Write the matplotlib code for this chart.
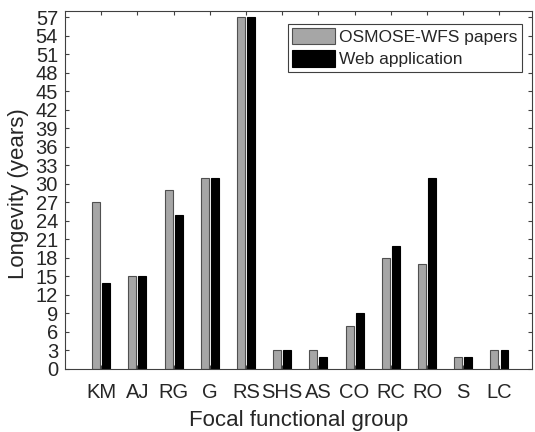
import numpy as np
import matplotlib
matplotlib.use('Agg')
import matplotlib.pyplot as plt

plt.rcParams['font.family'] = ['Liberation Sans', 'DejaVu Sans']

groups = ['KM', 'AJ', 'RG', 'G', 'RS', 'SHS', 'AS', 'CO', 'RC', 'RO', 'S', 'LC']
papers = [27, 15, 29, 31, 57, 3, 3, 7, 18, 17, 2, 3]
webapp = [14, 15, 25, 31, 57, 3, 2, 9, 20, 31, 2, 3]
yticks = list(range(0, 58, 3))

txt = '#262626'
fig = plt.figure(figsize=(5.35, 4.32), dpi=100)
ax = fig.add_axes([65/535, 1 - 369/432, (532-65)/535, (369-11)/432])

x = np.arange(1, len(groups) + 1)
w = 0.22
ax.bar(x - 0.14, papers, w, color='#a6a6a6', edgecolor='#505050', linewidth=0.8,
       label='OSMOSE-WFS papers')
ax.bar(x + 0.14, webapp, w, color='black', edgecolor='black', linewidth=0.8,
       label='Web application')

ax.set_xlim(0, 12.9)
ax.set_ylim(0, 58)
ax.set_xticks(x)
ax.set_xticklabels(groups)
ax.set_yticks(yticks)
ax.tick_params(direction='in', length=3, width=0.8, top=True, right=True,
               labelsize=14.5, colors='#404040', labelcolor=txt)
ax.tick_params(axis='x', pad=10)
ax.tick_params(axis='y', pad=5)
for s in ax.spines.values():
    s.set_color('#404040')
    s.set_linewidth(0.8)

ax.set_xlabel('Focal functional group', fontsize=16, color=txt, labelpad=6)
ax.set_ylabel('Longevity (years)', fontsize=16, color=txt)
ax.yaxis.set_label_coords(-0.077, 0.489)

leg = ax.legend(loc='upper right', fontsize=12.5, fancybox=False, framealpha=1,
                edgecolor='#404040', handlelength=2.47, handleheight=1.06,
                handletextpad=0.23, borderpad=0.25, labelspacing=0.29,
                borderaxespad=0, bbox_to_anchor=(0.9786, 0.964))
leg.get_frame().set_linewidth(0.8)
for t in leg.get_texts():
    t.set_color(txt)

fig.savefig('out.png', dpi=100)
